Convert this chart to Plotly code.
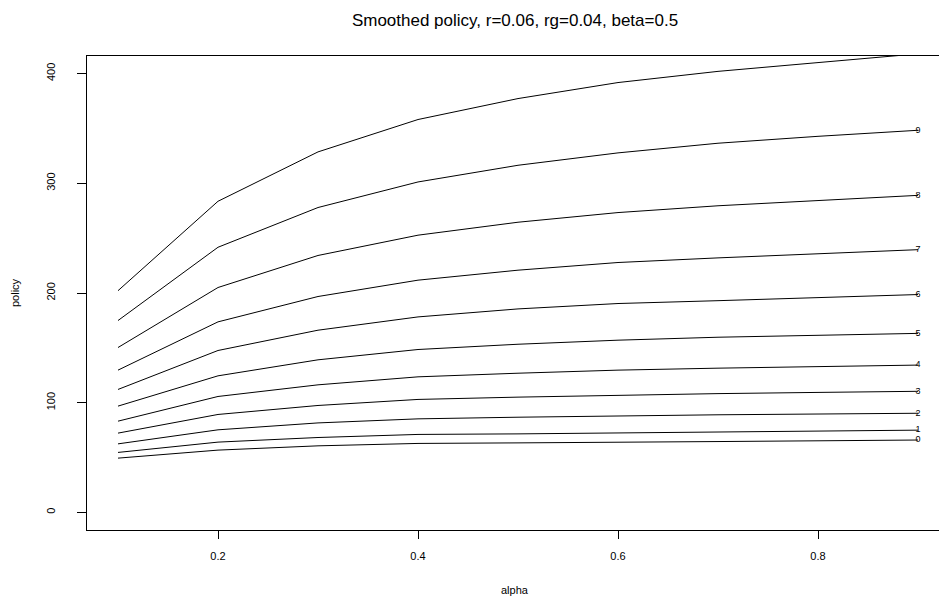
import plotly.graph_objects as go

alpha = [0.1, 0.2, 0.3, 0.4, 0.5, 0.6, 0.7, 0.8, 0.9]
policy_0 = [49.5, 56.8, 60.7, 62.9, 63.4, 63.8, 64.6, 65.3, 66.0]
policy_1 = [54.7, 64.1, 68.3, 71.1, 71.6, 72.5, 73.8, 74.4, 75.0]
policy_2 = [62.5, 75.3, 81.6, 85.3, 86.8, 88.0, 89.0, 89.7, 90.4]
policy_3 = [72.3, 89.3, 97.5, 103.0, 105.1, 106.9, 108.3, 109.4, 110.4]
policy_4 = [83.2, 105.7, 116.3, 123.6, 126.9, 129.7, 131.5, 133.0, 134.3]
policy_5 = [96.9, 124.5, 139.1, 148.5, 153.3, 157.0, 159.7, 161.6, 163.2]
policy_6 = [112.1, 147.6, 166.1, 178.2, 185.5, 190.4, 193.0, 196.0, 198.6]
policy_7 = [129.7, 173.7, 196.8, 211.7, 220.8, 227.8, 232.0, 236.0, 239.5]
policy_8 = [150.3, 205.0, 234.2, 252.7, 264.5, 273.3, 279.5, 284.5, 289.0]
policy_9 = [174.9, 241.7, 277.9, 301.2, 316.4, 327.7, 336.5, 342.8, 348.3]
policy_10 = [202.1, 283.6, 328.6, 358.1, 377.2, 391.8, 402.0, 410.0, 418.0]
series = [policy_0, policy_1, policy_2, policy_3, policy_4, policy_5,
          policy_6, policy_7, policy_8, policy_9, policy_10]
series_labels = [str(i) for i in range(11)]

x_ticks = [0.2, 0.4, 0.6, 0.8]
x_ticktext = ["0.2", "0.4", "0.6", "0.8"]
y_ticks = [0, 100, 200, 300, 400]
y_ticktext = ["0", "100", "200", "300", "400"]

FONT = "Liberation Sans, Arial, Helvetica, sans-serif"

fig = go.Figure()
for vals in series:
    fig.add_trace(go.Scatter(x=alpha, y=vals, mode="lines",
                             line=dict(color="black", width=1),
                             hoverinfo="skip"))

fig.add_trace(go.Scatter(
    x=[alpha[-1]] * len(series),
    y=[s[-1] for s in series],
    mode="text",
    text=series_labels,
    textposition="middle center",
    textfont=dict(family=FONT, size=9, color="black"),
    cliponaxis=True,
    hoverinfo="skip",
))

W, H = 939, 603
L, R, T, B = 87, 0, 56, 73
CX = 515  # horizontal centre of the (uncropped) plot region

fig.update_layout(
    width=W, height=H,
    margin=dict(l=L, r=R, t=T, b=B, pad=0),
    paper_bgcolor="white", plot_bgcolor="white",
    showlegend=False,
    font=dict(family=FONT, color="black", size=11),
    title=dict(text="Smoothed policy, r=0.06, rg=0.04, beta=0.5",
               x=CX / W, xref="container", xanchor="center",
               y=1 - 20 / H, yref="container", yanchor="middle",
               font=dict(family=FONT, size=17, color="black")),
    xaxis=dict(range=[0.069, 0.921], tickvals=x_ticks, ticktext=x_ticktext,
               ticks="outside", ticklen=8, tickcolor="black", tickwidth=1,
               showline=True, linecolor="black", linewidth=1, mirror=True,
               showgrid=False, zeroline=False,
               tickfont=dict(family=FONT, size=11, color="black"),
               ticklabelstandoff=8),
    yaxis=dict(range=[-16, 416], tickvals=y_ticks, ticktext=y_ticktext,
               tickangle=-90,
               ticks="outside", ticklen=9, tickcolor="black", tickwidth=1,
               showline=True, linecolor="black", linewidth=1, mirror=False,
               showgrid=False, zeroline=False,
               tickfont=dict(family=FONT, size=11, color="black"),
               ticklabelstandoff=18),
    annotations=[
        dict(text="alpha", xref="paper", yref="paper",
             x=(CX - L) / (W - L - R), y=0, yshift=-(590 - (H - B)),
             xanchor="center", yanchor="middle", showarrow=False,
             font=dict(family=FONT, size=11, color="black")),
        dict(text="policy", xref="paper", yref="paper",
             x=0, xshift=-(L - 15), y=(H - B - 293) / (H - T - B),
             xanchor="center", yanchor="middle", textangle=-90,
             showarrow=False,
             font=dict(family=FONT, size=11, color="black")),
    ],
)

fig.write_html("out.html",
               config={"displayModeBar": False},
               post_script="document.body.style.margin='0';"
                           "document.body.style.padding='0';")
